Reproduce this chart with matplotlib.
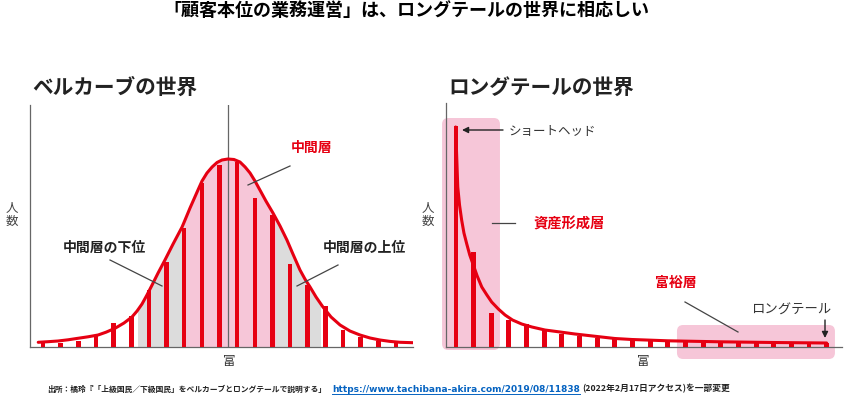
import matplotlib
matplotlib.use("Agg")
import matplotlib.pyplot as plt
from matplotlib.lines import Line2D
from matplotlib.patches import FancyBboxPatch, Rectangle

plt.rcParams["font.family"] = ["Noto Sans CJK JP", "DejaVu Sans"]

# ---- データ（画像から読み取った値、縦軸は相対値） ----
# ベルカーブ：棒グラフ（21本）
bell_bars = [4, 4, 6, 11, 24, 31, 57, 85, 119, 164, 182,
             185, 149, 132, 83, 62, 41, 17, 10, 6, 4]
# ベルカーブの曲線（x は棒の番号単位）
bell_curve_x = [-0.27, 0.28, 0.85, 1.42, 1.98, 2.55, 3.12, 3.57, 4.08, 4.59,
                5.04, 5.33, 5.61, 5.89, 6.18, 6.52, 6.91, 7.37, 7.88, 8.0,
                8.33, 8.78, 9.01, 9.29, 9.58, 9.86, 10.14, 10.48, 10.82,
                11.16, 11.45, 11.73, 12.01, 12.29, 12.63, 13.03, 13.43,
                13.82, 14.16, 14.56, 14.84, 15.13, 15.47, 15.86, 16.32,
                16.83, 17.39, 17.96, 18.53, 19.09, 19.66, 20.23, 20.96]
bell_curve_y = [4.7, 5.3, 6, 7.2, 8.7, 10.2, 12, 14.8, 18.7, 24,
                30, 36, 43, 52, 62, 74, 87, 103, 120, 125,
                139, 157, 166, 174, 180, 184.5, 187, 188, 187.5,
                185, 180, 174, 166, 157, 146, 134, 121,
                107, 93, 77, 68, 60, 50, 40, 30,
                22, 16, 12, 9, 7, 5.6, 4.7, 4.3]

# ロングテール：棒グラフ（22本）
tail_bars = [221, 95, 34, 27, 23, 17, 13, 11, 9, 8, 7,
             7, 6, 5, 5, 5, 5, 4, 4, 4, 4, 4]
tail_curve_x = [-0.02, 0.05, 0.10, 0.20, 0.32, 0.45, 0.61, 0.78, 0.96, 1.2,
                1.46, 1.75, 2.02, 2.4, 2.78, 3.2, 3.72, 4.3, 5.04, 5.9,
                6.74, 7.99, 9.0, 9.97, 12.0, 14.96, 17.96, 21.0]
tail_curve_y = [220, 185, 160, 142, 127, 114, 103, 92, 83, 71,
                60, 52, 45, 38, 32, 27, 23, 20, 17, 15,
                13, 10.5, 8.5, 7.5, 6.2, 5.2, 4.5, 4]

RED = "#e60012"
PINK = "#f6c6d8"
GRAY_FILL = "#dcdcdc"
AXIS = "#666666"
TXT = "#222222"

W, H = 846, 399
STEP = 17.65  # 棒の間隔（px）


def fx(x):
    return x / W


def fy(y):
    return 1 - y / H


def style_axes(ax):
    for s in ["top", "right"]:
        ax.spines[s].set_visible(False)
    for s in ["left", "bottom"]:
        ax.spines[s].set_color(AXIS)
        ax.spines[s].set_linewidth(0.9)
    ax.set_xticks([])
    ax.set_yticks([])
    ax.patch.set_visible(False)


fig = plt.figure(figsize=(W / 100, H / 100), dpi=100)

# ---------------- 左：ベルカーブ ----------------
ax1 = fig.add_axes([fx(30), fy(347), (413 - 30) / W, (347 - 105) / H])
style_axes(ax1)
ax1.set_xlim((30 - 43) / STEP, (413 - 43) / STEP)
ax1.set_ylim(0, 242)

gray = ax1.fill_between(bell_curve_x, bell_curve_y, 0, color=GRAY_FILL,
                        lw=0, zorder=1)
gray.set_clip_path(Rectangle((5.38, 0), 15.69 - 5.38, 300,
                             transform=ax1.transData))
pink = ax1.fill_between(bell_curve_x, bell_curve_y, 0, color=PINK,
                        lw=0, zorder=1.1)
pink.set_clip_path(Rectangle((8.05, 0), 13.14 - 8.05, 300,
                             transform=ax1.transData))
ax1.axvline(10.5, color=AXIS, lw=0.9, zorder=2)
ax1.bar(range(len(bell_bars)), bell_bars, width=0.26, color=RED, zorder=3)
ax1.plot(bell_curve_x, bell_curve_y, color=RED, lw=2.2, zorder=4,
         solid_capstyle="round", solid_joinstyle="round")

# ---------------- 右：ロングテール ----------------
ax2 = fig.add_axes([fx(446), fy(347), (842 - 446) / W, (347 - 103) / H])
style_axes(ax2)
ax2.set_xlim((446 - 456) / STEP, (842 - 456) / STEP)
ax2.set_ylim(0, 244)

for x0, x1, y0, y1 in [(-0.79, 2.49, -3, 229), (12.52, 21.47, -12, 22)]:
    box = FancyBboxPatch((x0, y0), x1 - x0, y1 - y0,
                         boxstyle="round,pad=0,rounding_size=0.35",
                         mutation_aspect=STEP, color=PINK, lw=0,
                         zorder=0.5, clip_on=False)
    ax2.add_patch(box)
ax2.bar(range(len(tail_bars)), tail_bars, width=0.28, color=RED, zorder=3)
ax2.plot(tail_curve_x, tail_curve_y, color=RED, lw=2.2, zorder=4,
         solid_capstyle="round", solid_joinstyle="round")

# ---------------- テキスト ----------------
fig.text(fx(406), fy(11), "「顧客本位の業務運営」は、ロングテールの世界に相応しい",
         ha="center", va="center", fontsize=13, fontweight="bold",
         color="black")
fig.text(fx(32), fy(87), "ベルカーブの世界", ha="left", va="center",
         fontsize=14.9, fontweight="bold", color=TXT)
fig.text(fx(448), fy(87), "ロングテールの世界", ha="left", va="center",
         fontsize=14.9, fontweight="bold", color=TXT)

for x in (12, 428):
    fig.text(fx(x), fy(215), "人\n数", ha="center", va="center",
             fontsize=9, color="#444444", linespacing=1.05)
for x in (229, 643):
    fig.text(fx(x), fy(361), "富", ha="center", va="center",
             fontsize=9, color="#333333")

fig.text(fx(312), fy(148), "中間層", ha="center", va="center",
         fontsize=10, fontweight="bold", color=RED)
fig.text(fx(104), fy(248), "中間層の下位", ha="center", va="center",
         fontsize=10, fontweight="bold", color=TXT)
fig.text(fx(364), fy(248), "中間層の上位", ha="center", va="center",
         fontsize=10, fontweight="bold", color=TXT)

fig.text(fx(552), fy(131), "ショートヘッド", ha="center", va="center",
         fontsize=9, color="#333333")
fig.text(fx(569), fy(224), "資産形成層", ha="center", va="center",
         fontsize=10.3, fontweight="bold", color=RED)
fig.text(fx(676), fy(283), "富裕層", ha="center", va="center",
         fontsize=10, fontweight="bold", color=RED)
fig.text(fx(791), fy(310), "ロングテール", ha="center", va="center",
         fontsize=9.6, color="#333333")

# 引き出し線
for (xa, ya), (xb, yb) in [((290, 166), (248, 185)),
                           ((110, 260), (162, 286)),
                           ((338, 265), (297, 286)),
                           ((492, 223), (515, 223)),
                           ((685, 302), (738, 332))]:
    fig.add_artist(Line2D([fx(xa), fx(xb)], [fy(ya), fy(yb)],
                          transform=fig.transFigure, color="#444444", lw=0.9))

# 矢印
arrow = dict(arrowstyle="-|>", color="#222222", lw=1.0, mutation_scale=9,
             shrinkA=0, shrinkB=0)
ax2.annotate("", xy=(462, H - 130), xytext=(503, H - 130),
             xycoords="figure pixels", textcoords="figure pixels",
             arrowprops=arrow)
ax2.annotate("", xy=(825, H - 338), xytext=(825, H - 320),
             xycoords="figure pixels", textcoords="figure pixels",
             arrowprops=arrow)

# 出所
fig.text(fx(47), fy(389),
         "出所：橘玲『「上級国民／下級国民」をベルカーブとロングテールで説明する」",
         ha="left", va="center", fontsize=5.6, fontweight="bold", color=TXT)
url = fig.text(fx(332), fy(389),
               "https://www.tachibana-akira.com/2019/08/11838",
               ha="left", va="center", fontsize=6.5, fontweight="bold",
               color="#0563c1", family="DejaVu Sans")
fig.text(fx(582), fy(389), "(2022年2月17日アクセス)を一部変更",
         ha="left", va="center", fontsize=6.3, fontweight="bold", color=TXT)

fig.canvas.draw()
bb = url.get_window_extent()
fig.add_artist(Line2D([bb.x0 / W, bb.x1 / W], [(H - 394) / H, (H - 394) / H],
                      transform=fig.transFigure, color="#0563c1", lw=0.7))

fig.savefig("out.png", dpi=100)
